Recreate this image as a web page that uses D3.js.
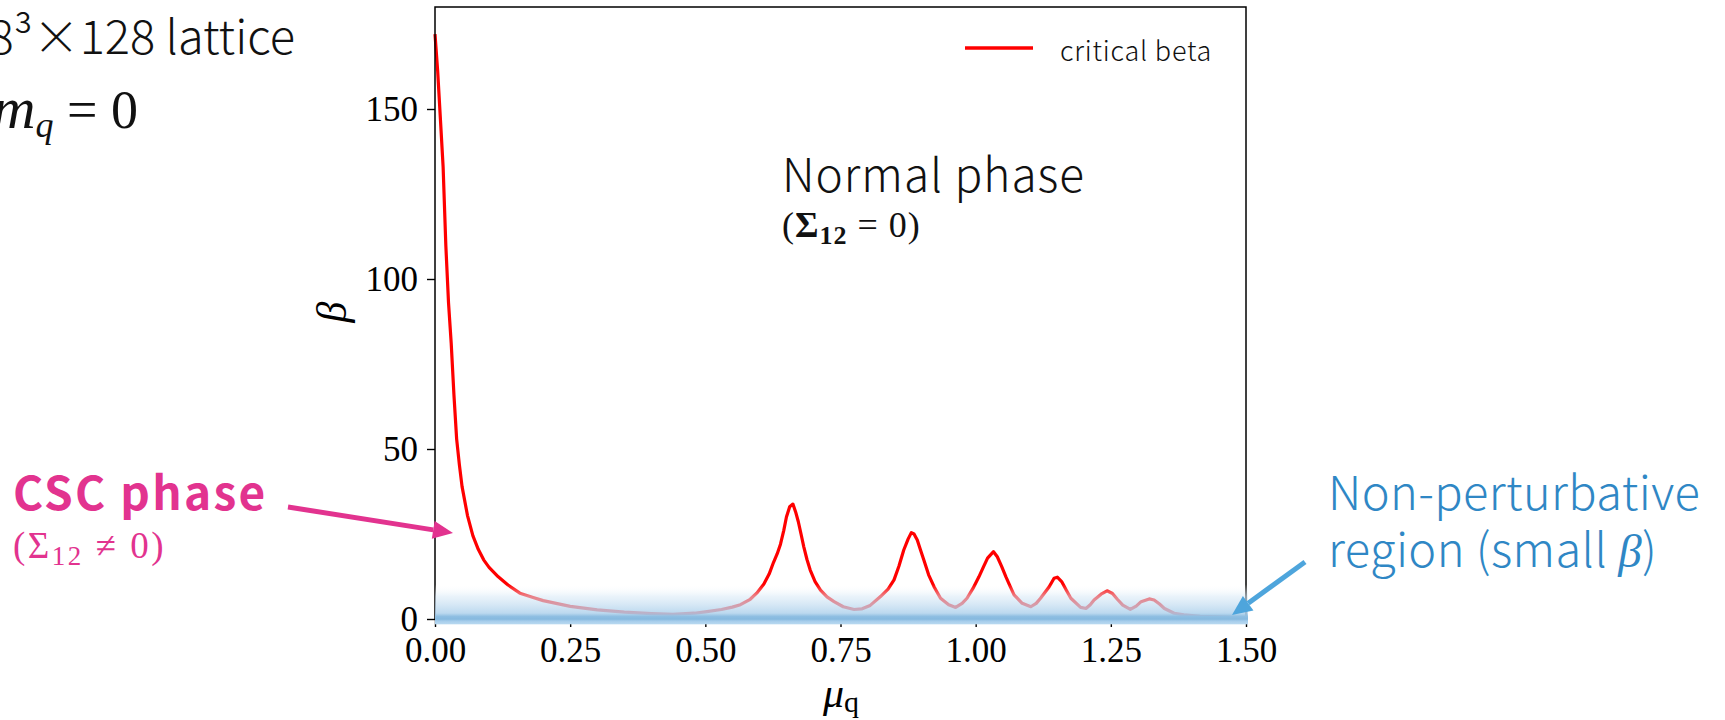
<!DOCTYPE html>
<html>
<head>
<meta charset="utf-8">
<script src="https://cdn.jsdelivr.net/npm/d3@7"></script>
<style>
  html, body { margin: 0; padding: 0; background: #fff; overflow: hidden; }
  svg { display: block; }
</style>
</head>
<body>
<div id="chart"></div>
<script>
// critical beta vs quark chemical potential
const muValues = [
  0, 0.005, 0.01, 0.015, 0.02, 0.025, 0.03, 0.035, 0.04, 0.045, 0.05, 0.06, 0.07, 0.08, 0.09,
  0.1, 0.117, 0.135, 0.157, 0.18, 0.2, 0.25, 0.3, 0.35, 0.4, 0.44, 0.48, 0.5, 0.53, 0.55,
  0.565, 0.583, 0.595, 0.608, 0.618, 0.626, 0.633, 0.639, 0.645, 0.65, 0.656, 0.662, 0.667,
  0.672, 0.677, 0.682, 0.688, 0.694, 0.703, 0.713, 0.725, 0.738, 0.755, 0.775, 0.79, 0.805,
  0.824, 0.838, 0.849, 0.858, 0.867, 0.875, 0.881, 0.886, 0.892, 0.898, 0.904, 0.913, 0.923,
  0.935, 0.95, 0.963, 0.975, 0.984, 0.995, 1.006, 1.014, 1.022, 1.033, 1.04, 1.048, 1.056,
  1.064, 1.071, 1.086, 1.102, 1.112, 1.12, 1.136, 1.145, 1.151, 1.159, 1.168, 1.176, 1.194,
  1.204, 1.212, 1.219, 1.232, 1.243, 1.253, 1.262, 1.272, 1.286, 1.297, 1.306, 1.321, 1.33,
  1.34, 1.349, 1.367, 1.385, 1.415, 1.447, 1.475, 1.5
];
const betaValues = [
  172, 161, 147, 133, 110, 93, 81, 66, 53, 45.5, 39, 30.5, 24.5, 20.5, 17.4,
  15.2, 12.4, 10, 7.6, 6.4, 5.4, 3.7, 2.7, 2.0, 1.6, 1.4, 1.7, 2.1, 2.8, 3.5,
  4.2, 5.8, 7.6, 10.2, 13.2, 16.6, 19.2, 22, 26, 30, 33, 33.8, 31.5,
  28.6, 25, 21.3, 17.5, 14.4, 11, 8.5, 6.5, 5.1, 3.6, 2.8, 3.0, 4.0,
  6.6, 8.8, 11.5, 15.5, 20.3, 23.5, 25.4, 25.0, 23.2, 20.3, 17.4, 13, 9.5,
  6.1, 4.2, 3.4, 4.6, 6.1, 9.0, 12.4, 15.2, 17.9, 19.8, 18.3, 15.5, 12.4,
  9.5, 7.1, 4.6, 3.6, 4.6, 6.1, 9.5, 12, 12.3, 11, 8.4, 6.1, 3.4,
  3.1, 4.2, 5.6, 7.3, 8.3, 7.5, 5.8, 4.1, 2.8, 3.8, 5.1, 5.9, 5.6,
  4.4, 3.1, 1.7, 1.2, 0.8, 0.6, 0.45, 0.4
];
const xTicks = [0, 0.25, 0.5, 0.75, 1.0, 1.25, 1.5];
const yTicks = [0, 50, 100, 150];

const W = 1725, H = 720;
const plot = { left: 435, right: 1246, top: 7, bottom: 619 };

const svg = d3.select("#chart").append("svg")
  .attr("width", W).attr("height", H)
  .attr("viewBox", `0 0 ${W} ${H}`);

const x = d3.scaleLinear().domain([0, 1.5]).range([plot.left, plot.right]);
const y = d3.scaleLinear().domain([0, 180]).range([plot.bottom, plot.top]);

const serif = "'Liberation Serif', 'DejaVu Serif', serif";
const sans = "'Noto Sans CJK JP', 'Noto Sans', sans-serif";

const defs = svg.append("defs");
const grad = defs.append("linearGradient")
  .attr("id", "band").attr("x1", 0).attr("y1", 0).attr("x2", 0).attr("y2", 1);
[
  [0, "#ffffff", 0],
  [0.3, "#d8e9f6", 0.55],
  [0.72, "#b0d2ec", 0.85],
  [0.8, "#8fbfe2", 1],
  [0.87, "#86b9df", 1],
  [0.92, "#a6cdeb", 1],
  [1, "#b9d9f0", 1]
].forEach(([o, c, a]) => grad.append("stop")
  .attr("offset", o).attr("stop-color", c).attr("stop-opacity", a));

// axes
const xAxis = svg.append("g")
  .attr("transform", `translate(0,${plot.bottom})`)
  .call(d3.axisBottom(x).tickValues(xTicks).tickFormat(d3.format(".2f")).tickSize(8).tickPadding(10).tickSizeOuter(0));
const yAxis = svg.append("g")
  .attr("transform", `translate(${plot.left},0)`)
  .call(d3.axisLeft(y).tickValues(yTicks).tickFormat(d3.format("d")).tickSize(8).tickPadding(9).tickSizeOuter(0));
[xAxis, yAxis].forEach((g) => {
  g.select(".domain").remove();
  g.selectAll("line").attr("stroke", "#000").attr("stroke-width", 1.4);
  g.selectAll("text").attr("fill", "#000").attr("font-family", serif).attr("font-size", 35);
});
yAxis.selectAll("text").attr("dy", "0.34em");

// curve
const line = d3.line()
  .x((d, i) => x(muValues[i]))
  .y((d) => y(d));
svg.append("path")
  .datum(betaValues)
  .attr("fill", "none")
  .attr("stroke", "#ff0000")
  .attr("stroke-width", 3.2)
  .attr("stroke-linejoin", "round")
  .attr("d", line);

// frame
svg.append("rect")
  .attr("x", plot.left).attr("y", plot.top)
  .attr("width", plot.right - plot.left).attr("height", plot.bottom - plot.top)
  .attr("fill", "none").attr("stroke", "#000").attr("stroke-width", 1.5);

// non-perturbative band
svg.append("rect")
  .attr("x", plot.left).attr("y", y(10.2))
  .attr("width", plot.right - plot.left + 2).attr("height", 40)
  .attr("fill", "url(#band)");

// legend
svg.append("line")
  .attr("x1", 965).attr("x2", 1033).attr("y1", 48).attr("y2", 48)
  .attr("stroke", "#ff0000").attr("stroke-width", 3.5);
svg.append("text")
  .attr("x", 1060).attr("y", 61)
  .attr("font-family", sans).attr("font-weight", 300).attr("font-size", 27)
  .attr("letter-spacing", 0.8).attr("fill", "#111")
  .text("critical beta");

// axis labels
svg.append("text")
  .attr("transform", `translate(346,312) rotate(-90)`)
  .attr("text-anchor", "middle")
  .attr("font-family", serif).attr("font-style", "italic").attr("font-size", 42)
  .text("β");
const xl = svg.append("text")
  .attr("x", 841).attr("y", 707)
  .attr("text-anchor", "middle")
  .attr("font-family", serif).attr("font-size", 42);
xl.append("tspan").attr("font-style", "italic").text("μ");
xl.append("tspan").attr("font-size", 30).attr("dy", 5).text("q");

// annotations
svg.append("text")
  .attr("x", 295).attr("y", 54).attr("text-anchor", "end")
  .attr("font-family", sans).attr("font-weight", 300).attr("font-size", 47).attr("fill", "#111")
  .text("8³×128 lattice");
const mq = svg.append("text")
  .attr("x", 138).attr("y", 128).attr("text-anchor", "end")
  .attr("font-family", serif).attr("font-size", 54).attr("fill", "#111");
mq.append("tspan").attr("font-style", "italic").attr("font-size", 60).text("m");
mq.append("tspan").attr("font-style", "italic").attr("font-size", 36).attr("dy", 9).text("q");
mq.append("tspan").attr("dy", -9).text(" = 0");

svg.append("text")
  .attr("x", 782).attr("y", 192)
  .attr("font-family", sans).attr("font-weight", 300).attr("font-size", 46)
  .attr("letter-spacing", 1).attr("fill", "#111")
  .text("Normal phase");
const np = svg.append("text")
  .attr("x", 782).attr("y", 237)
  .attr("font-family", serif).attr("font-size", 36).attr("letter-spacing", 1).attr("fill", "#111");
np.append("tspan").text("(");
np.append("tspan").attr("font-weight", "bold").text("Σ");
np.append("tspan").attr("font-weight", "bold").attr("font-size", 26).attr("dy", 7).text("12");
np.append("tspan").attr("dy", -7).text(" = 0)");

const pink = "#e2338f";
svg.append("text")
  .attr("x", 13).attr("y", 510)
  .attr("font-family", sans).attr("font-weight", "bold").attr("font-size", 46)
  .attr("letter-spacing", 2.3).attr("fill", pink)
  .text("CSC phase");
const cp = svg.append("text")
  .attr("x", 13).attr("y", 558)
  .attr("font-family", serif).attr("font-size", 37).attr("letter-spacing", 2.5).attr("fill", pink);
cp.append("tspan").text("(Σ");
cp.append("tspan").attr("font-size", 27).attr("dy", 7).text("12");
cp.append("tspan").attr("dy", -7).text(" ≠ 0)");

const blue = "#2f87c5";
svg.append("text")
  .attr("x", 1328).attr("y", 510)
  .attr("font-family", sans).attr("font-weight", 300).attr("font-size", 47)
  .attr("letter-spacing", 0.4).attr("fill", blue)
  .text("Non-perturbative");
const rg = svg.append("text")
  .attr("x", 1328).attr("y", 567)
  .attr("font-family", sans).attr("font-weight", 300).attr("font-size", 47)
  .attr("letter-spacing", 0.4).attr("fill", blue);
rg.append("tspan").text("region (small ");
rg.append("tspan").attr("font-family", serif).attr("font-style", "italic").text("β");
rg.append("tspan").text(")");

// arrows
function arrow(x1, y1, x2, y2, color) {
  const a = Math.atan2(y2 - y1, x2 - x1);
  const hl = 20, hw = 9;
  const bx = x2 - hl * Math.cos(a), by = y2 - hl * Math.sin(a);
  svg.append("line")
    .attr("x1", x1).attr("y1", y1).attr("x2", bx).attr("y2", by)
    .attr("stroke", color).attr("stroke-width", 5);
  const px = -Math.sin(a) * hw, py = Math.cos(a) * hw;
  svg.append("path")
    .attr("d", `M${x2},${y2}L${bx + px},${by + py}L${bx - px},${by - py}Z`)
    .attr("fill", color);
}
arrow(288, 507, 453, 533, pink);
arrow(1305, 562, 1232, 615, "#4ea5dc");
</script>
</body>
</html>
